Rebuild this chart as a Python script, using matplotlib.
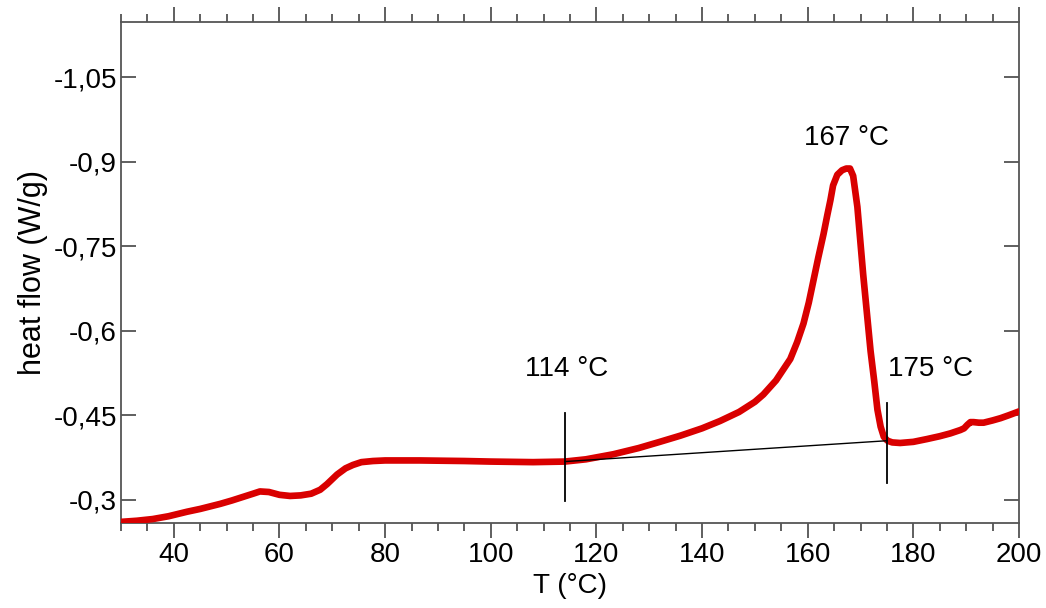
import matplotlib
matplotlib.use("Agg")
import matplotlib.pyplot as plt
from matplotlib.ticker import MultipleLocator, FixedLocator

plt.rcParams['font.family'] = ['Liberation Sans', 'DejaVu Sans']

# DSC curve (T in °C, heat flow in W/g)
temperature = [30, 33, 36, 39, 42.5, 45, 48.8, 51, 53, 55, 56.3, 58, 60, 62, 64, 66, 67.7,
               69, 70.9, 72.5, 73.9, 75.5, 77.7, 80, 86.6, 95, 100, 108, 114,
               118, 123.2, 128, 132, 135.9, 140, 143.4, 147, 150, 151.6, 154, 156.7,
               158, 159.2, 160.2, 161.1, 162, 163, 163.7, 164.3, 164.8, 165.6, 166.5, 167.3,
               168, 168.6, 169.4, 170.5, 171.9, 172.6, 173.2, 173.8, 174.4, 175.1, 176,
               177.5, 180, 182.6, 185, 187, 188.9, 189.6, 190.2, 190.8, 191.4, 192.4,
               193.3, 195, 196.5, 198, 200]
heat_flow = [-0.261, -0.263, -0.266, -0.271, -0.279, -0.284, -0.293, -0.299, -0.305, -0.311,
             -0.315, -0.314, -0.309, -0.307, -0.308, -0.311, -0.318,
             -0.328, -0.345, -0.356, -0.362, -0.367, -0.369, -0.37, -0.37, -0.369, -0.368,
             -0.367, -0.368,
             -0.372, -0.381, -0.392, -0.403, -0.414, -0.427, -0.44, -0.456, -0.474, -0.487,
             -0.512, -0.55,
             -0.58, -0.613, -0.65, -0.69, -0.73, -0.772, -0.805, -0.832, -0.858, -0.877,
             -0.885, -0.888,
             -0.888, -0.875, -0.82, -0.7, -0.564, -0.51, -0.46, -0.43, -0.412, -0.405, -0.402,
             -0.401, -0.403, -0.408, -0.413, -0.418, -0.424, -0.427, -0.433, -0.438, -0.438,
             -0.437,
             -0.437, -0.441, -0.445, -0.45, -0.457]

# baseline between onset and endset
baseline_T = [114, 175]
baseline_hf = [-0.368, -0.405]

# markers (vertical bars)
onset_T = 114
onset_span = [-0.454, -0.298]
endset_T = 175
endset_span = [-0.472, -0.33]

# annotations
labels = ["114 °C", "167 °C", "175 °C"]
label_T = [114.3, 167.3, 183.2]
label_hf = [-0.532, -0.942, -0.532]

y_ticks = [-0.3, -0.45, -0.6, -0.75, -0.9, -1.05]
y_ticklabels = ["-0,3", "-0,45", "-0,6", "-0,75", "-0,9", "-1,05"]

fig = plt.figure(figsize=(10.46, 6.08), dpi=100)
ax = fig.add_axes([0.1157, 0.1398, 0.8585, 0.824])

ax.plot(temperature, heat_flow, color='#d90000', lw=4.8, solid_capstyle='round',
        solid_joinstyle='round', zorder=3)
ax.plot(baseline_T, baseline_hf, color='black', lw=1.0, zorder=4)
ax.plot([onset_T, onset_T], onset_span, color='black', lw=1.3, zorder=4)
ax.plot([endset_T, endset_T], endset_span, color='black', lw=1.3, zorder=4)

for t, x, y in zip(labels, label_T, label_hf):
    ax.text(x, y, t, ha='center', va='center', fontsize=20, color='black')

ax.set_xlim(30, 200)
ax.set_ylim(-0.259, -1.148)

ax.xaxis.set_major_locator(MultipleLocator(20))
ax.xaxis.set_minor_locator(MultipleLocator(5))
ax.yaxis.set_major_locator(FixedLocator(y_ticks))
ax.set_yticklabels(y_ticklabels)

ax.tick_params(axis='x', which='major', direction='out', length=11, width=1.2,
               top=True, bottom=True, labelsize=20, color='#444444', pad=3)
ax.tick_params(axis='x', which='minor', direction='out', length=6, width=1.2,
               top=True, bottom=True, color='#444444')
ax.tick_params(axis='y', which='major', direction='in', length=11, width=1.2,
               left=True, right=True, labelsize=20, color='#444444', pad=3)

for s in ax.spines.values():
    s.set_color('#555555')
    s.set_linewidth(1.3)

ax.set_xlabel("T (°C)", fontsize=20, labelpad=3)
ax.set_ylabel("heat flow (W/g)", fontsize=22, labelpad=4)

fig.savefig("out.png", dpi=100)
